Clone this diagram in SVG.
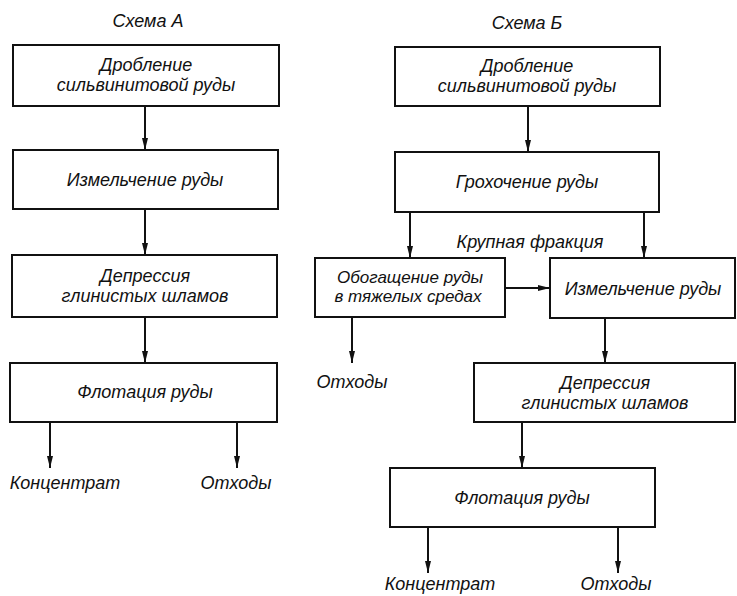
<svg xmlns="http://www.w3.org/2000/svg" width="737" height="596" viewBox="0 0 737 596">
  <style>
    text { font-family: "Liberation Sans", "DejaVu Sans", sans-serif; font-style: italic; font-size: 18px; fill: #111; text-anchor: middle; }
    .tight { font-size: 17px; }
    .box { fill: #fff; stroke: #111; stroke-width: 2; }
    .flow { fill: none; stroke: #111; stroke-width: 2; marker-end: url(#arrow); }
  </style>
  <defs>
    <marker id="arrow" viewBox="0 0 12 6" refX="12" refY="3" markerWidth="12" markerHeight="6" markerUnits="userSpaceOnUse" orient="auto">
      <path d="M0,0 L12,3 L0,6 Z" fill="#111"/>
    </marker>
  </defs>
  <rect width="737" height="596" fill="#fff"/>

  <!-- Scheme A -->
  <text x="148" y="27">Схема А</text>
  <g id="a-crush">
    <rect class="box" x="13" y="45" width="266" height="61"/>
    <text x="146" y="71">Дробление</text>
    <text x="146" y="91">сильвинитовой руды</text>
  </g>
  <g id="a-grind">
    <rect class="box" x="13" y="150" width="265" height="59"/>
    <text x="145" y="186">Измельчение руды</text>
  </g>
  <g id="a-depress">
    <rect class="box" x="12" y="255" width="265" height="62"/>
    <text x="145" y="282">Депрессия</text>
    <text x="145" y="302">глинистых шламов</text>
  </g>
  <g id="a-flot">
    <rect class="box" x="10" y="363" width="267" height="59"/>
    <text x="145" y="398">Флотация руды</text>
  </g>
  <text x="65" y="489">Концентрат</text>
  <text x="236" y="489">Отходы</text>

  <!-- Scheme B -->
  <text x="527" y="29">Схема Б</text>
  <g id="b-crush">
    <rect class="box" x="395" y="47" width="265" height="59"/>
    <text x="527" y="72">Дробление</text>
    <text x="527" y="92">сильвинитовой руды</text>
  </g>
  <g id="b-screen">
    <rect class="box" x="395" y="152" width="264" height="60"/>
    <text x="527" y="188">Грохочение руды</text>
  </g>
  <text x="530" y="248">Крупная фракция</text>
  <g id="b-heavy">
    <rect class="box" x="315" y="258" width="190" height="59"/>
    <text class="tight" x="410" y="283">Обогащение руды</text>
    <text class="tight" x="408" y="302">в тяжелых средах</text>
  </g>
  <g id="b-grind">
    <rect class="box" x="550" y="258" width="185" height="60"/>
    <text x="643" y="295">Измельчение руды</text>
  </g>
  <text x="352" y="388">Отходы</text>
  <g id="b-depress">
    <rect class="box" x="474" y="363" width="261" height="59"/>
    <text x="605" y="389">Депрессия</text>
    <text x="605" y="409">глинистых шламов</text>
  </g>
  <g id="b-flot">
    <rect class="box" x="390" y="468" width="265" height="59"/>
    <text x="522" y="504">Флотация руды</text>
  </g>
  <text x="440" y="590">Концентрат</text>
  <text x="616" y="590">Отходы</text>

  <g id="connectors">
    <line class="flow" x1="145" y1="106" x2="145" y2="150"/>
    <line class="flow" x1="145" y1="209" x2="145" y2="255"/>
    <line class="flow" x1="145" y1="317" x2="145" y2="363"/>
    <line class="flow" x1="50" y1="422" x2="50" y2="468"/>
    <line class="flow" x1="237" y1="422" x2="237" y2="468"/>

    <line class="flow" x1="528" y1="106" x2="528" y2="152"/>
    <line class="flow" x1="410" y1="212" x2="410" y2="258"/>
    <line class="flow" x1="644" y1="212" x2="644" y2="258"/>
    <line class="flow" x1="505" y1="288" x2="550" y2="288"/>
    <line class="flow" x1="352" y1="317" x2="352" y2="363"/>
    <line class="flow" x1="605" y1="318" x2="605" y2="363"/>
    <line class="flow" x1="522" y1="422" x2="522" y2="468"/>
    <line class="flow" x1="428" y1="527" x2="428" y2="573"/>
    <line class="flow" x1="618" y1="527" x2="618" y2="573"/>
  </g>
</svg>
